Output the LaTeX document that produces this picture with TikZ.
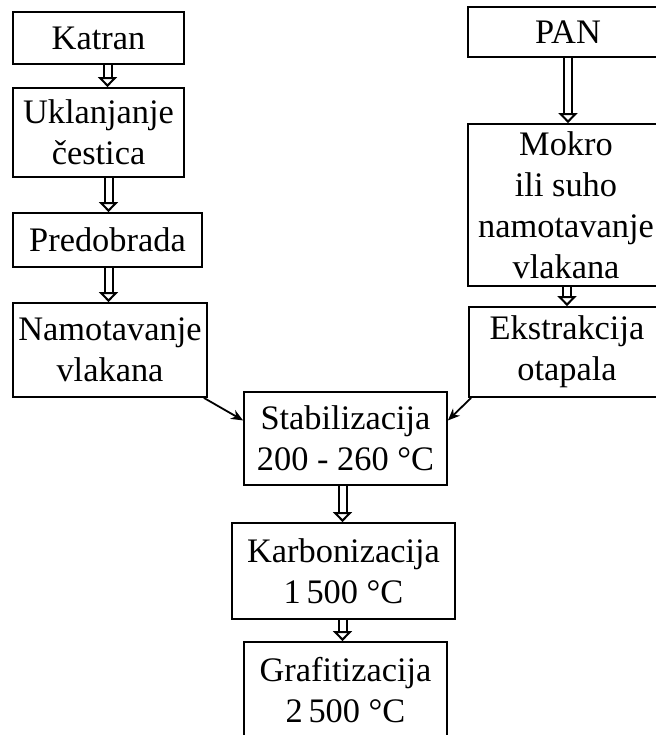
\documentclass[tikz,border=0pt]{standalone}
\usepackage{fontspec}
\setmainfont{Liberation Serif}
\usetikzlibrary{arrows, positioning, calc, arrows.meta}

\begin{document}
\begin{tikzpicture}[
    x = 1bp, y = -1bp, % page units, y going down
    > = {Stealth[length=12bp, width=10bp]}, % arrow head style
    line width = 1.8bp
    ]

    \tikzset{
    stepbox/.style = {
    draw = black,
    fill = white,
    align = center,
    inner sep = 0pt,
    font = \fontsize{34.5}{41}\selectfont
    },
    hollow/.style = {
    double, double distance = 6bp, line width = 2bp,
    -{Triangle[fill=white, length=10bp, width=19bp]}
    }
    }

    \useasboundingbox (0,0) rectangle (656,735);

    % left branch
    \node[stepbox, minimum width=171bp, minimum height=52bp] (katran) at (98.5,38) {Katran};
    \node[stepbox, minimum width=171bp, minimum height=89bp] (uklanj) at (98.5,132.5) {Uklanjanje\\čestica};
    \node[stepbox, minimum width=189bp, minimum height=54bp] (predob) at (107.5,240) {Predobrada};
    \node[stepbox, minimum width=194bp, minimum height=94bp] (namot) at (110,350) {Namotavanje\\vlakana};

    % right branch
    \node[stepbox, minimum width=200bp, minimum height=50bp] (pan) at (568,32) {PAN};
    \node[stepbox, minimum width=196bp, minimum height=162bp] (mokro) at (566,205) {Mokro\\ili suho\\namotavanje\\vlakana};
    \node[stepbox, minimum width=196bp, minimum height=90bp] (ekstr) at (567,352) {Ekstrakcija\\otapala};

    % common part
    \node[stepbox, minimum width=203bp, minimum height=93bp] (stab) at (345.5,438.5) {Stabilizacija\\200 - 260 °C};
    \node[stepbox, minimum width=223bp, minimum height=96bp] (karb) at (343.5,571) {Karbonizacija\\1\,500 °C};
    \node[stepbox, minimum width=203bp, minimum height=96bp] (graf) at (345.5,690) {Grafitizacija\\2\,500 °C};

    \draw[hollow] ([xshift=9bp]katran.south) -- ([xshift=9bp]uklanj.north);
    \draw[hollow] ([xshift=10bp]uklanj.south) -- ([xshift=10bp]uklanj.south |- predob.north);
    \draw[hollow] ([xshift=1bp]predob.south) -- ([xshift=1bp]predob.south |- namot.north);
    \draw[hollow] (pan.south) -- (pan.south |- mokro.north);
    \draw[hollow] ([xshift=1bp]mokro.south) -- ([xshift=1bp]mokro.south |- ekstr.north);
    \draw[hollow] ([xshift=-3bp]stab.south) -- ([xshift=-3bp]stab.south |- karb.north);
    \draw[hollow] ([xshift=-3bp]stab.south |- karb.south) -- ([xshift=-3bp]stab.south |- graf.north);

    \draw[->] ([xshift=-4bp]namot.south east) -- (stab.170);
    \draw[->] ([xshift=3bp]ekstr.south west) -- (stab.10);

\end{tikzpicture}
\end{document}
